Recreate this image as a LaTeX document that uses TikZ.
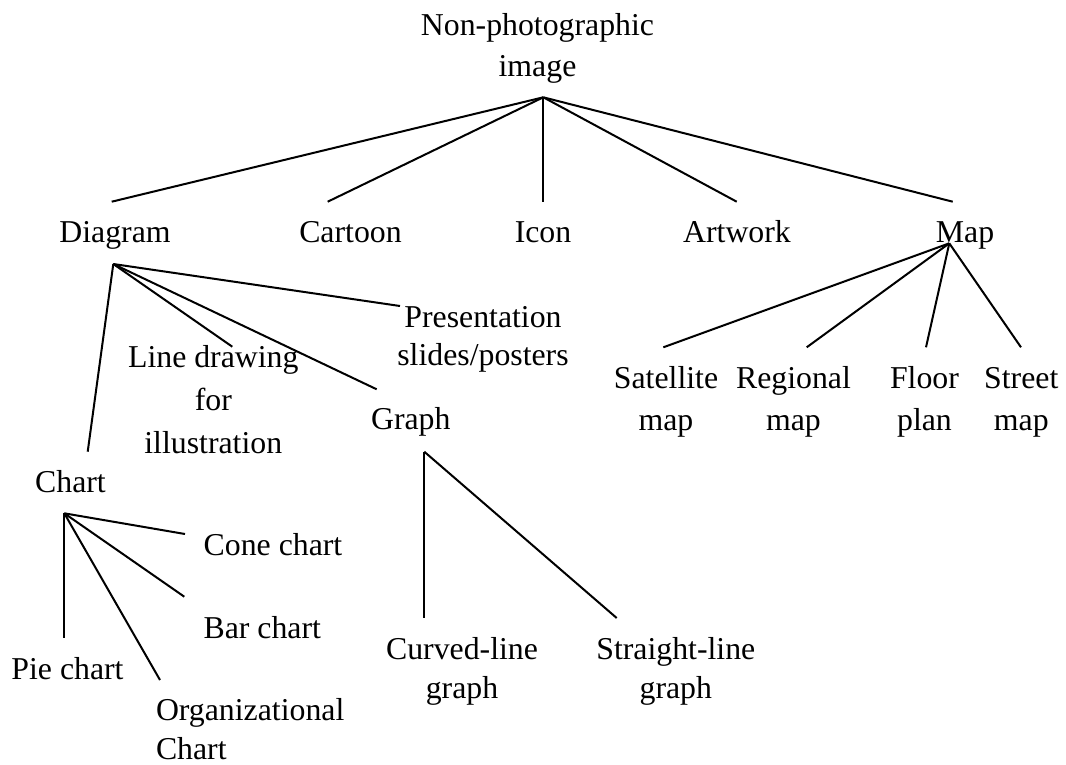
\documentclass[tikz,border=0pt]{standalone}
\usepackage{fontspec}
\setmainfont{Liberation Serif}
\begin{document}
\begin{tikzpicture}[x=1pt,y=-1pt,
  lbl/.style={inner sep=0pt, outer sep=0pt, anchor=base, align=center,
    font=\fontsize{31.8}{42}\selectfont},
  link/.style={line width=2pt, black}]
\useasboundingbox (0,0) rectangle (1066,764);
% labels (base = baseline of the last line)
\node[lbl] (root) at (537.5,76) {Non-photographic\\[-1pt]image};
\node[lbl] (diagram) at (115,242.7) {Diagram};
\node[lbl] (cartoon) at (350.5,242.7) {Cartoon};
\node[lbl] (icon) at (543,242.7) {Icon};
\node[lbl] (artwork) at (737,242.7) {Artwork};
\node[lbl] (map) at (965,242.7) {Map};
\node[lbl] (pres) at (483,365) {Presentation\\[-4pt]slides/posters};
\node[lbl] (line) at (213.3,453.3) {Line drawing\\[1pt]for\\[1pt]illustration};
\node[lbl] (graph) at (410.8,429.3) {Graph};
\node[lbl] (chart) at (70.5,492.7) {Chart};
\node[lbl] (cone) at (273,555) {Cone chart};
\node[lbl] (bar) at (262.3,638.3) {Bar chart};
\node[lbl] (pie) at (67.5,679.3) {Pie chart};
\node[lbl, anchor=base west, align=left] (org) at (156,759.5) {Organizational\\[-3pt]Chart};
\node[lbl] (curved) at (462,698.3) {Curved-line\\[-3pt]graph};
\node[lbl] (straight) at (675.8,698.3) {Straight-line\\[-3pt]graph};
\node[lbl] (sat) at (666,430.7) {Satellite\\map};
\node[lbl] (reg) at (793.5,430.7) {Regional\\map};
\node[lbl] (floor) at (924.5,430.7) {Floor\\plan};
\node[lbl] (street) at (1021.3,430.7) {Street\\map};
% connector end points
\coordinate (rootA) at (543.3,97.3);
\coordinate (diagramT) at (111.7,201.7);
\coordinate (cartoonT) at (327.7,201.7);
\coordinate (iconT) at (543.3,201.7);
\coordinate (artworkT) at (736.7,201.7);
\coordinate (mapT) at (952.7,201.7);
\coordinate (diagramA) at (113.3,264);
\coordinate (chartT) at (87.7,451.7);
\coordinate (lineT) at (232.3,346.7);
\coordinate (graphT) at (376.7,389.3);
\coordinate (presT) at (400,306);
\coordinate (chartA) at (64.3,513.3);
\coordinate (coneT) at (185,534);
\coordinate (barT) at (184.3,596.7);
\coordinate (pieT) at (64.3,638.3);
\coordinate (orgT) at (160,680);
\coordinate (graphA) at (424.3,451.7);
\coordinate (curvedT) at (424.3,618);
\coordinate (straightT) at (616.7,618);
\coordinate (mapA) at (949.3,243.3);
\coordinate (satT) at (663.3,347.3);
\coordinate (regT) at (806.7,347.3);
\coordinate (floorT) at (926,347.3);
\coordinate (streetT) at (1021,347.3);
% connectors
\draw[link] (rootA) -- (diagramT);
\draw[link] (rootA) -- (cartoonT);
\draw[link] (rootA) -- (iconT);
\draw[link] (rootA) -- (artworkT);
\draw[link] (rootA) -- (mapT);
\draw[link] (diagramA) -- (chartT);
\draw[link] (diagramA) -- (lineT);
\draw[link] (diagramA) -- (graphT);
\draw[link] (diagramA) -- (presT);
\draw[link] (chartA) -- (coneT);
\draw[link] (chartA) -- (barT);
\draw[link] (chartA) -- (pieT);
\draw[link] (chartA) -- (orgT);
\draw[link] (graphA) -- (curvedT);
\draw[link] (graphA) -- (straightT);
\draw[link] (mapA) -- (satT);
\draw[link] (mapA) -- (regT);
\draw[link] (mapA) -- (floorT);
\draw[link] (mapA) -- (streetT);
\end{tikzpicture}
\end{document}
